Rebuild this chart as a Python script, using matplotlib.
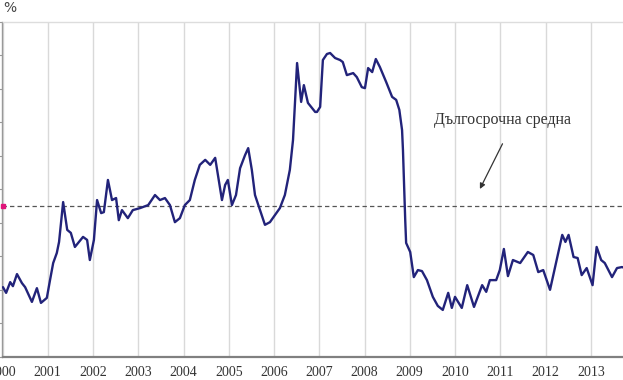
import matplotlib
matplotlib.use("Agg")
import matplotlib.pyplot as plt

# Decimal year positions and values
years = [2000.01, 2000.08, 2000.17, 2000.23, 2000.32, 2000.43, 2000.50, 2000.65, 2000.76, 2000.85,
         2000.98, 2001.05, 2001.12, 2001.20, 2001.25, 2001.34, 2001.43, 2001.51, 2001.60, 2001.78,
         2001.87, 2001.93, 2002.02, 2002.09, 2002.18, 2002.24, 2002.33, 2002.42, 2002.51, 2002.57,
         2002.64, 2002.77, 2002.88, 2003.04, 2003.22, 2003.37, 2003.48, 2003.59, 2003.70, 2003.81,
         2003.92, 2004.03, 2004.14, 2004.25, 2004.36, 2004.48, 2004.59, 2004.70, 2004.76, 2004.85,
         2004.92, 2004.98, 2005.07, 2005.16, 2005.25, 2005.36, 2005.43, 2005.51, 2005.58, 2005.69,
         2005.80, 2005.91, 2006.02, 2006.13, 2006.24, 2006.35, 2006.42, 2006.51, 2006.60, 2006.66,
         2006.75, 2006.91, 2006.95, 2007.02, 2007.08, 2007.17, 2007.24, 2007.35, 2007.46, 2007.52,
         2007.61, 2007.75, 2007.83, 2007.94, 2008.01, 2008.08, 2008.17, 2008.25, 2008.34, 2008.48,
         2008.61, 2008.70, 2008.77, 2008.83, 2008.85, 2008.90, 2008.92, 2009.01, 2009.09, 2009.18,
         2009.27, 2009.38, 2009.51, 2009.62, 2009.73, 2009.85, 2009.93, 2010.00, 2010.15, 2010.27,
         2010.42, 2010.60, 2010.69, 2010.77, 2010.91, 2010.99, 2011.08, 2011.17, 2011.28, 2011.44,
         2011.61, 2011.73, 2011.84, 2011.95, 2012.10, 2012.26, 2012.37, 2012.44, 2012.51, 2012.62,
         2012.71, 2012.80, 2012.91, 2013.04, 2013.13, 2013.23, 2013.31, 2013.47, 2013.58, 2013.69,
         2013.76]
values = [2.07, 1.90, 2.22, 2.10, 2.46, 2.19, 2.07, 1.63, 2.04, 1.60,
          1.75, 2.28, 2.79, 3.09, 3.42, 4.61, 3.78, 3.69, 3.27, 3.57,
          3.48, 2.88, 3.48, 4.67, 4.28, 4.31, 5.27, 4.67, 4.73, 4.07,
          4.37, 4.13, 4.37, 4.43, 4.52, 4.82, 4.67, 4.73, 4.52, 4.01,
          4.13, 4.52, 4.67, 5.27, 5.72, 5.87, 5.72, 5.93, 5.42, 4.67,
          5.12, 5.27, 4.52, 4.82, 5.62, 6.01, 6.22, 5.57, 4.82, 4.37,
          3.93, 4.01, 4.22, 4.43, 4.82, 5.57, 6.46, 8.76, 7.60, 8.10,
          7.57, 7.30, 7.30, 7.45, 8.85, 9.03, 9.06, 8.91, 8.85, 8.79,
          8.40, 8.46, 8.34, 8.04, 8.01, 8.61, 8.49, 8.88, 8.64, 8.19,
          7.75, 7.66, 7.36, 6.76, 6.16, 4.07, 3.39, 3.12, 2.37, 2.58,
          2.55, 2.28, 1.78, 1.51, 1.39, 1.90, 1.45, 1.78, 1.45, 2.13,
          1.48, 2.13, 1.93, 2.28, 2.28, 2.58, 3.21, 2.40, 2.88, 2.79,
          3.12, 3.03, 2.52, 2.58, 1.99, 2.97, 3.63, 3.42, 3.63, 2.97,
          2.94, 2.43, 2.64, 2.13, 3.27, 2.88, 2.79, 2.37, 2.64, 2.67,
          2.64]
long_term_mean = 4.5
year_ticks = list(range(2000, 2015))
year_labels = [str(y) for y in year_ticks]
annotation_text = "Дългосрочна средна"

fig = plt.figure(figsize=(6.23, 3.80), dpi=100)
ax = fig.add_axes([2.5 / 623, 23.5 / 380, (14 * 45.25) / 623, 335 / 380])

ax.set_xlim(2000, 2014)
ax.set_ylim(0, 10)

ax.plot(years, values, color="#22237a", lw=1.7, solid_joinstyle="round",
        solid_capstyle="round", zorder=3)

ax.axhline(long_term_mean, color="#555555", lw=0.9, linestyle=(0, (3.5, 2.5)), zorder=2)
ax.plot([2000], [long_term_mean], marker="s", ms=3.5, color="#e0157a",
        clip_on=False, zorder=4)

ax.set_xticks(year_ticks)
ax.set_xticklabels(year_labels, family="Liberation Serif", fontsize=10, color="#333333")
ax.set_yticks(range(0, 11))
ax.set_yticklabels([])
ax.tick_params(axis="x", length=0, pad=7)
ax.tick_params(axis="y", length=3, direction="out", color="#999999")
ax.grid(axis="x", color="#d9d9d9", lw=1.0)
ax.set_axisbelow(True)

ax.spines["left"].set_color("#999999")
ax.spines["left"].set_linewidth(1.0)
ax.spines["bottom"].set_color("#808080")
ax.spines["bottom"].set_linewidth(1.6)
ax.spines["top"].set_color("#dddddd")
ax.spines["top"].set_linewidth(1.0)
ax.spines["right"].set_visible(False)

ax.annotate("", xy=(2010.55, 5.0), xytext=(2011.05, 6.35),
            arrowprops=dict(arrowstyle="-|>", color="#333333", lw=0.9,
                            mutation_scale=8, shrinkA=0, shrinkB=0))
ax.text(2011.05, 7.05, annotation_text, family="Liberation Serif", fontsize=11.5,
        color="#333333", ha="center", va="center")

fig.text(3 / 623, 1 - 8 / 380, "%", fontsize=10, color="#444444", ha="left", va="center")

fig.savefig("out.png", dpi=100)
